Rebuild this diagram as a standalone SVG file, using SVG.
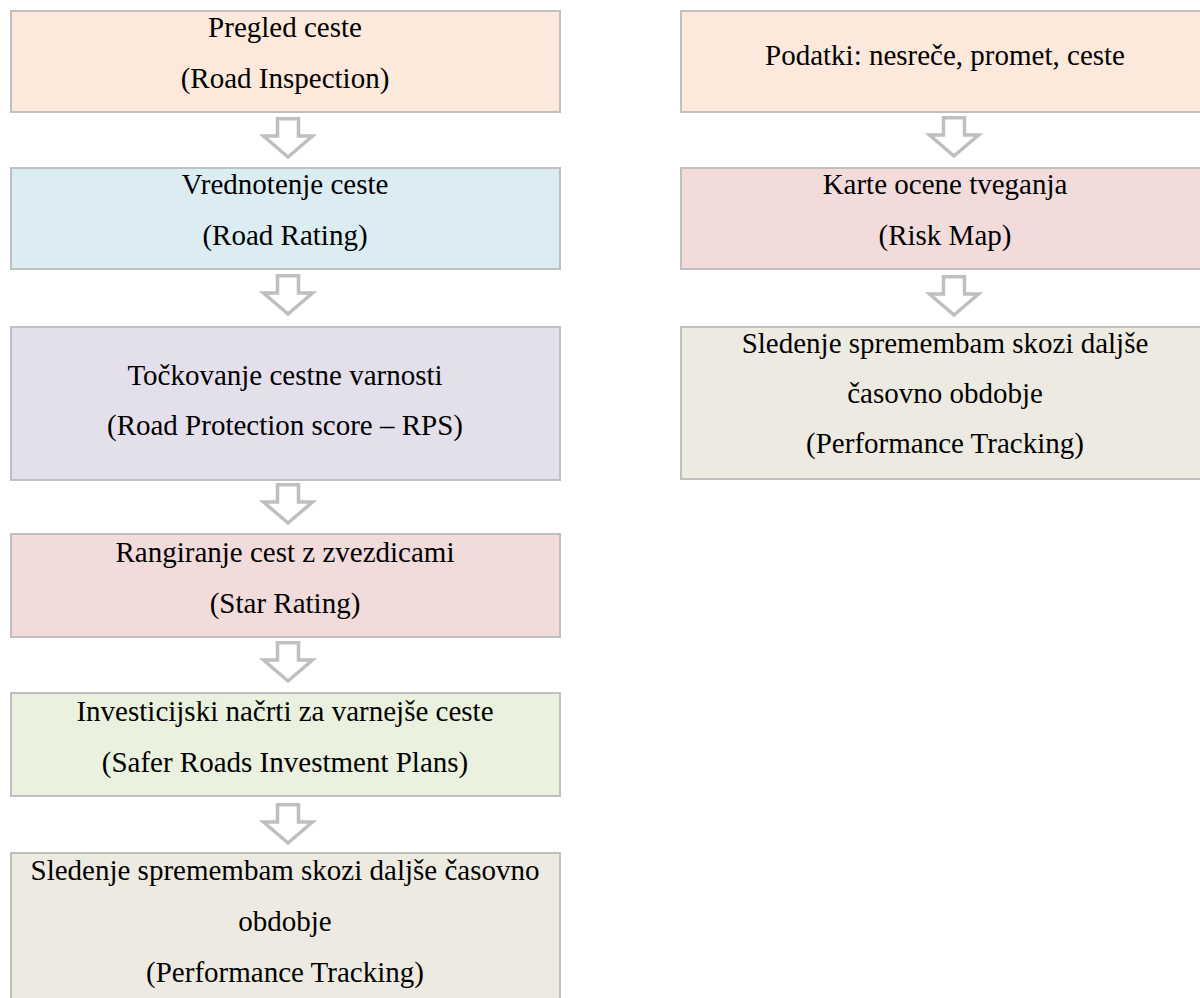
<svg xmlns="http://www.w3.org/2000/svg" width="1200" height="998" viewBox="0 0 1200 998">
<style>
.box{stroke:#BFBFBF;stroke-width:2}
.t{font-family:"Liberation Serif","Times New Roman",serif;font-size:29px;fill:#000;text-anchor:middle}
.arr{fill:#FFFFFF;stroke:#BFBFBF;stroke-width:3.5;stroke-linejoin:miter}
</style>
<defs>
<path id="downArrow" class="arr" d="M -10.5,1.8 L 10.5,1.8 L 10.5,19 L 24.5,19 L 0,40 L -24.5,19 L -10.5,19 Z"/>
</defs>
<rect width="1200" height="998" fill="#FFFFFF"/>
<g id="connectors">
<use href="#downArrow" x="288" y="117"/>
<use href="#downArrow" x="288" y="274"/>
<use href="#downArrow" x="288" y="483"/>
<use href="#downArrow" x="288" y="641"/>
<use href="#downArrow" x="288" y="803"/>
<use href="#downArrow" x="954" y="116"/>
<use href="#downArrow" x="954" y="275"/>
</g>
<g id="n1">
<rect class="box" x="11" y="11" width="549" height="101" fill="#FCE9DB"/>
<text class="t" x="285" y="37">Pregled ceste</text>
<text class="t" x="285" y="88">(Road Inspection)</text>
</g>
<g id="n2">
<rect class="box" x="11" y="168" width="549" height="101" fill="#DBEDF3"/>
<text class="t" x="285" y="194">Vrednotenje ceste</text>
<text class="t" x="285" y="245">(Road Rating)</text>
</g>
<g id="n3">
<rect class="box" x="11" y="327" width="549" height="153" fill="#E3DFEB"/>
<text class="t" x="285" y="385">Točkovanje cestne varnosti</text>
<text class="t" x="285" y="435">(Road Protection score – RPS)</text>
</g>
<g id="n4">
<rect class="box" x="11" y="534" width="549" height="103" fill="#F1DBDB"/>
<text class="t" x="285" y="562">Rangiranje cest z zvezdicami</text>
<text class="t" x="285" y="613">(Star Rating)</text>
</g>
<g id="n5">
<rect class="box" x="11" y="693" width="549" height="103" fill="#EAF1DE"/>
<text class="t" x="285" y="721">Investicijski načrti za varnejše ceste</text>
<text class="t" x="285" y="772">(Safer Roads Investment Plans)</text>
</g>
<g id="n6">
<rect class="box" x="11" y="853" width="549" height="160" fill="#EDEBE1"/>
<text class="t" x="285" y="880">Sledenje spremembam skozi daljše časovno</text>
<text class="t" x="285" y="931">obdobje</text>
<text class="t" x="285" y="982">(Performance Tracking)</text>
</g>
<g id="r1">
<rect class="box" x="681" y="11" width="550" height="101" fill="#FCE9DB"/>
<text class="t" x="945" y="65">Podatki: nesreče, promet, ceste</text>
</g>
<g id="r2">
<rect class="box" x="681" y="168" width="550" height="101" fill="#F1DBDB"/>
<text class="t" x="945" y="194">Karte ocene tveganja</text>
<text class="t" x="945" y="245">(Risk Map)</text>
</g>
<g id="r3">
<rect class="box" x="681" y="327" width="550" height="152" fill="#EDEBE1"/>
<text class="t" x="945" y="353">Sledenje spremembam skozi daljše</text>
<text class="t" x="945" y="403">časovno obdobje</text>
<text class="t" x="945" y="453">(Performance Tracking)</text>
</g>
</svg>
